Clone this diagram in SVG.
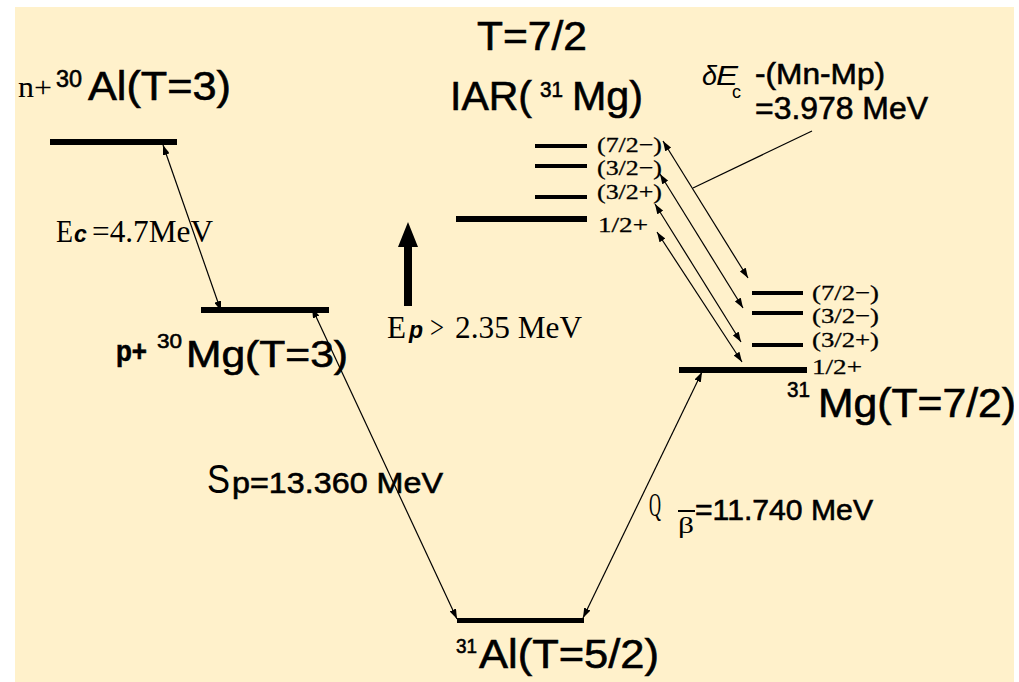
<svg xmlns="http://www.w3.org/2000/svg" width="1019" height="682" viewBox="0 0 1019 682">
<style>
.sans{font-family:"Liberation Sans",Arial,sans-serif;fill:#000;stroke:#000;stroke-width:0.6}
.sansr{font-family:"Liberation Sans",Arial,sans-serif;fill:#000}
.serif{font-family:"Liberation Serif","Times New Roman",serif;fill:#000}
.bi{font-family:"Liberation Sans",Arial,sans-serif;font-weight:bold;font-style:italic;fill:#000}
.spin{font-family:"Liberation Serif","Times New Roman",serif;font-size:22px;fill:#000;stroke:#000;stroke-width:0.3}
.lvl{fill:#000}
.conn{stroke:#000;stroke-width:1.2;fill:none}
</style>
<defs>
<marker id="ah" viewBox="0 0 10 7" refX="10" refY="3.5" markerWidth="10" markerHeight="7" markerUnits="userSpaceOnUse" orient="auto-start-reverse"><path d="M0,0 L10,3.5 L0,7 z" fill="#000"/></marker>
<clipPath id="bgclip"><rect x="15" y="7" width="999" height="675"/></clipPath>
</defs>
<rect id="background" x="15" y="7" width="999" height="675" fill="#FFF1CB"/>
<g clip-path="url(#bgclip)">
<g id="n30Al">
<rect class="lvl" x="50" y="139" width="127" height="6"/>
<text class="serif" x="18" y="97" font-size="30" textLength="34" lengthAdjust="spacingAndGlyphs">n+</text>
<text class="sans" x="56" y="87" font-size="23" textLength="26" lengthAdjust="spacingAndGlyphs">30</text>
<text class="sans" x="88" y="100" font-size="40" textLength="143" lengthAdjust="spacingAndGlyphs">Al(T=3)</text>
</g>
<g id="p30Mg">
<rect class="lvl" x="201" y="307" width="128" height="6"/>
<text class="sans" x="116" y="361" font-size="29" font-weight="bold" textLength="31" lengthAdjust="spacingAndGlyphs">p+</text>
<text class="sans" x="157" y="348" font-size="21" textLength="25" lengthAdjust="spacingAndGlyphs">30</text>
<text class="sans" x="186" y="367" font-size="36" textLength="162" lengthAdjust="spacingAndGlyphs">Mg(T=3)</text>
</g>
<g id="IAR31Mg">
<rect class="lvl" x="535" y="144" width="52" height="4"/>
<rect class="lvl" x="535" y="164" width="52" height="4"/>
<rect class="lvl" x="535" y="195" width="52" height="4"/>
<rect class="lvl" x="456" y="216" width="131" height="6"/>
<text class="sans" x="477" y="50" font-size="40" textLength="110" lengthAdjust="spacingAndGlyphs">T=7/2</text>
<text class="sans" x="450" y="110" font-size="41" textLength="82" lengthAdjust="spacingAndGlyphs">IAR(</text>
<text class="sans" x="540" y="97" font-size="22" textLength="23" lengthAdjust="spacingAndGlyphs">31</text>
<text class="sans" x="572" y="110" font-size="41" textLength="71" lengthAdjust="spacingAndGlyphs">Mg)</text>
<text class="spin" x="597" y="152" textLength="65" lengthAdjust="spacingAndGlyphs">(7/2−)</text>
<text class="spin" x="597" y="175" textLength="65" lengthAdjust="spacingAndGlyphs">(3/2−)</text>
<text class="spin" x="597" y="199" textLength="65" lengthAdjust="spacingAndGlyphs">(3/2+)</text>
<text class="spin" x="598" y="232" textLength="50" lengthAdjust="spacingAndGlyphs">1/2+</text>
</g>
<g id="Mg31">
<rect class="lvl" x="752" y="291" width="51" height="4"/>
<rect class="lvl" x="752" y="311" width="51" height="4"/>
<rect class="lvl" x="752" y="343" width="51" height="4"/>
<rect class="lvl" x="679" y="367" width="128" height="6"/>
<text class="spin" x="812" y="300" textLength="67" lengthAdjust="spacingAndGlyphs">(7/2−)</text>
<text class="spin" x="812" y="323" textLength="67" lengthAdjust="spacingAndGlyphs">(3/2−)</text>
<text class="spin" x="812" y="347" textLength="67" lengthAdjust="spacingAndGlyphs">(3/2+)</text>
<text class="spin" x="812" y="374" textLength="50" lengthAdjust="spacingAndGlyphs">1/2+</text>
<text class="sans" x="787" y="397" font-size="22" textLength="23" lengthAdjust="spacingAndGlyphs">31</text>
<text class="sans" x="818" y="417" font-size="40" textLength="198" lengthAdjust="spacingAndGlyphs">Mg(T=7/2)</text>
</g>
<g id="Al31">
<rect class="lvl" x="457" y="618" width="127" height="5"/>
<text class="sans" x="456" y="653" font-size="21" textLength="21" lengthAdjust="spacingAndGlyphs">31</text>
<text class="sans" x="479" y="668" font-size="40" textLength="180" lengthAdjust="spacingAndGlyphs">Al(T=5/2)</text>
</g>
<g id="Ep-arrow">
<polygon points="408,222 418,247 398,247" fill="#000"/>
<rect x="404" y="246" width="8" height="60" fill="#000"/>
</g>
<g id="labels">
<text class="serif" x="56" y="242" font-size="32" textLength="17" lengthAdjust="spacingAndGlyphs">E</text>
<text class="bi" x="74" y="242" font-size="23">c</text>
<text class="serif" x="92" y="242" font-size="32" textLength="121" lengthAdjust="spacingAndGlyphs">=4.7MeV</text>
<text class="serif" x="387" y="338" font-size="32" textLength="19" lengthAdjust="spacingAndGlyphs">E</text>
<text class="bi" x="409" y="338" font-size="23">p</text>
<text class="serif" x="430" y="338" font-size="32" textLength="14" lengthAdjust="spacingAndGlyphs">&gt;</text>
<text class="serif" x="455" y="338" font-size="32" textLength="127" lengthAdjust="spacingAndGlyphs">2.35 MeV</text>
<text class="sansr" x="207" y="493" font-size="41" textLength="23" lengthAdjust="spacingAndGlyphs">S</text>
<text class="sans" x="232" y="493" font-size="30" textLength="211" lengthAdjust="spacingAndGlyphs">p=13.360 MeV</text>
<text class="serif" x="649" y="516" font-size="34" textLength="12" lengthAdjust="spacingAndGlyphs">Q</text>
<text class="serif" x="678" y="533" font-size="24" textLength="16" lengthAdjust="spacingAndGlyphs">β</text>
<line x1="678" y1="511" x2="695" y2="511" stroke="#000" stroke-width="2"/>
<text class="sans" x="695" y="520" font-size="30" textLength="178" lengthAdjust="spacingAndGlyphs">=11.740 MeV</text>
<text class="sansr" x="702" y="85" font-size="27" font-style="italic">δ</text>
<text class="sansr" x="716" y="85" font-size="27" font-style="italic" textLength="22" lengthAdjust="spacingAndGlyphs">E</text>
<text class="sansr" x="732" y="98" font-size="18">c</text>
<text class="sans" x="755" y="84" font-size="30" textLength="130" lengthAdjust="spacingAndGlyphs">-(Mn-Mp)</text>
<text class="sans" x="755" y="119" font-size="31" textLength="173" lengthAdjust="spacingAndGlyphs">=3.978 MeV</text>
</g>
<g id="connectors">
<line class="conn" x1="163" y1="145" x2="221" y2="311" marker-start="url(#ah)" marker-end="url(#ah)"/>
<line class="conn" x1="312" y1="308" x2="457" y2="619" marker-start="url(#ah)" marker-end="url(#ah)"/>
<line class="conn" x1="583" y1="618" x2="702" y2="372" marker-start="url(#ah)" marker-end="url(#ah)"/>
<line class="conn" x1="663" y1="141" x2="748" y2="278" marker-start="url(#ah)" marker-end="url(#ah)"/>
<line class="conn" x1="660" y1="174" x2="743" y2="308" marker-start="url(#ah)" marker-end="url(#ah)"/>
<line class="conn" x1="655" y1="204" x2="741" y2="342" marker-start="url(#ah)" marker-end="url(#ah)"/>
<line class="conn" x1="657" y1="232" x2="742" y2="362" marker-start="url(#ah)" marker-end="url(#ah)"/>
<line class="conn" x1="693" y1="188" x2="812" y2="131"/>
</g>
</g>
</svg>
